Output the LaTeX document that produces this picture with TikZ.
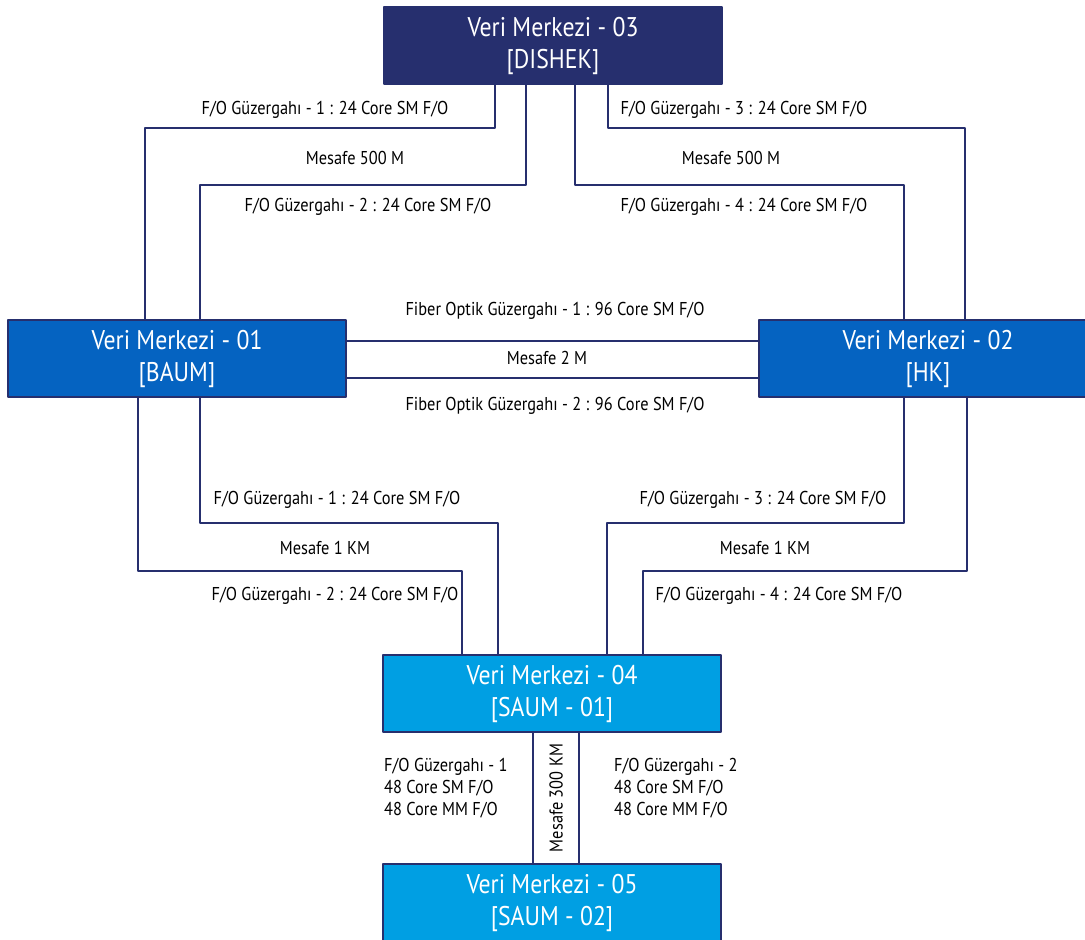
\documentclass[tikz,border=0pt]{standalone}
\usepackage{fontspec}
\setmainfont{PT Sans}[FakeStretch=0.88]
\definecolor{navy}{HTML}{262F6E}
\definecolor{dcblue}{HTML}{0563C1}
\definecolor{dccyan}{HTML}{009FE3}
\begin{document}
\begin{tikzpicture}[line cap=round, line join=round, x=1pt, y=-1pt, font=\fontsize{18.6}{22}\selectfont]
	\tikzset{dc/.style={draw=navy, line width=2.6pt, text=white, minimum width=338, minimum height=77, align=center, inner sep=0pt, font=\fontsize{27}{32}\selectfont},
		route/.style={draw=navy, line width=2.6pt}}
	\clip (0,0) rectangle (1085,940);
	\node[dc, fill=navy] (dc3) at (553,45.5) {Veri Merkezi - 03\\{[DISHEK]}};
	\node[dc, fill=dcblue] (dc1) at (177,358.5) {Veri Merkezi - 01\\{[BAUM]}};
	\node[dc, fill=dcblue] (dc2) at (928,358.5) {Veri Merkezi - 02\\{[HK]}};
	\node[dc, fill=dccyan] (dc4) at (552,693.5) {Veri Merkezi - 04\\{[SAUM - 01]}};
	\node[dc, fill=dccyan] (dc5) at (552,902.5) {Veri Merkezi - 05\\{[SAUM - 02]}};
	% DISHEK
	\draw[route] (dc3.south -| 495,0) -- (495,128) -| (dc1.north -| 145,0);
	\draw[route] (dc3.south -| 526,0) -- (526,185) -| (dc1.north -| 200,0);
	\draw[route] (dc3.south -| 608,0) -- (608,128) -| (dc2.north -| 965,0);
	\draw[route] (dc3.south -| 575,0) -- (575,185) -| (dc2.north -| 904,0);
	\node (l31) at (325,110) {F/O Güzergahı - 1 : 24 Core SM F/O};
	\node (l3m) at (355,158) {Mesafe 500 M};
	\node (l32) at (368,207) {F/O Güzergahı - 2 : 24 Core SM F/O};
	\node (l33) at (744,110) {F/O Güzergahı - 3 : 24 Core SM F/O};
	\node (l3n) at (731,158) {Mesafe 500 M};
	\node (l34) at (744,207) {F/O Güzergahı - 4 : 24 Core SM F/O};
	% BAUM - HK
	\draw[route] (dc1.east |- 0,341) -- (dc2.west |- 0,341);
	\draw[route] (dc1.east |- 0,378) -- (dc2.west |- 0,378);
	\node (l11) at (555,311) {Fiber Optik Güzergahı - 1 : 96 Core SM F/O};
	\node (l1m) at (547,358) {Mesafe 2 M};
	\node (l12) at (555,406) {Fiber Optik Güzergahı - 2 : 96 Core SM F/O};
	% SAUM - 01
	\draw[route] (dc1.south -| 200,0) -- (200,523) -| (dc4.north -| 498,0);
	\draw[route] (dc1.south -| 138,0) -- (138,571) -| (dc4.north -| 462,0);
	\draw[route] (dc2.south -| 904,0) -- (904,523) -| (dc4.north -| 607,0);
	\draw[route] (dc2.south -| 967,0) -- (967,571) -| (dc4.north -| 643,0);
	\node (l41) at (337,500) {F/O Güzergahı - 1 : 24 Core SM F/O};
	\node (l4m) at (325,548) {Mesafe 1 KM};
	\node (l42) at (335,596) {F/O Güzergahı - 2 : 24 Core SM F/O};
	\node (l43) at (763,500) {F/O Güzergahı - 3 : 24 Core SM F/O};
	\node (l4n) at (765,548) {Mesafe 1 KM};
	\node (l44) at (779,596) {F/O Güzergahı - 4 : 24 Core SM F/O};
	% SAUM - 02
	\draw[route] (dc4.south -| 533,0) -- (dc5.north -| 533,0);
	\draw[route] (dc4.south -| 579,0) -- (dc5.north -| 579,0);
	\node[rotate=90] (l5m) at (556,798) {Mesafe 300 KM};
	\node[anchor=west, align=left, inner sep=0pt] (l51) at (384,788) {F/O Güzergahı - 1\\48 Core SM F/O\\48 Core MM F/O};
	\node[anchor=west, align=left, inner sep=0pt] (l52) at (614,788) {F/O Güzergahı - 2\\48 Core SM F/O\\48 Core MM F/O};
\end{tikzpicture}
\end{document}
